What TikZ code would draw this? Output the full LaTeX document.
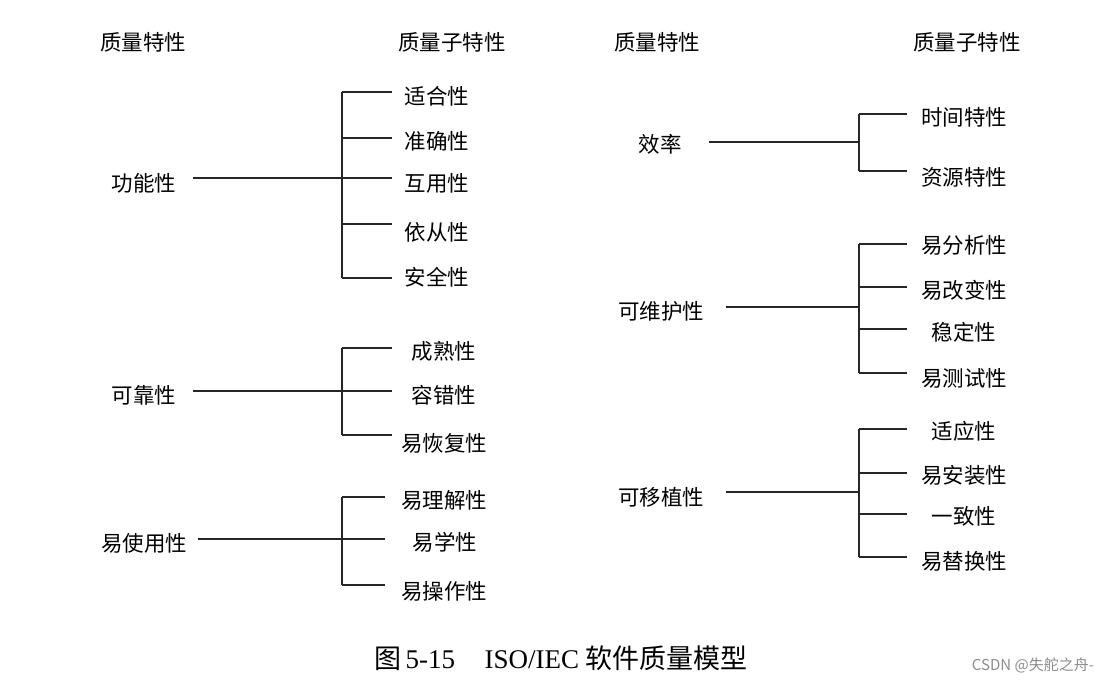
\documentclass[tikz,border=0pt]{standalone}
\usepackage{fontspec}
\setmainfont{Liberation Serif}
\newfontfamily\cjk{Noto Sans CJK SC}
\begin{document}
\begin{tikzpicture}[y=-1pt,x=1pt]
        \tikzset{
            txt/.style={font=\cjk\fontsize{21.5}{24}\selectfont,inner sep=0pt},
            tree/.style={draw=black!85,line width=1.1pt}
        }
        \useasboundingbox (0,0) rectangle (1109,684);

        % headers
        \node[txt] (h1) at (143,42) {质量特性};
        \node[txt] (h2) at (452,42) {质量子特性};
        \node[txt] (h3) at (657,42) {质量特性};
        \node[txt] (h4) at (967,42) {质量子特性};

        % left column
        \node[txt] (gn) at (144,183) {功能性};
        \node[txt] (gnt1) at (437,96) {适合性};
        \node[txt] (gnt2) at (437,141) {准确性};
        \node[txt] (gnt3) at (437,183) {互用性};
        \node[txt] (gnt4) at (437,232) {依从性};
        \node[txt] (gnt5) at (437,277) {安全性};
        \coordinate (gn0) at (193,178);
        \coordinate (gnb) at (342,178);
        \foreach \n/\y in {1/92,2/138,3/178,4/224,5/278}
            \coordinate (gn\n) at (392,\y);

        \node[txt] (kk) at (144,395) {可靠性};
        \node[txt] (kkt1) at (444,351) {成熟性};
        \node[txt] (kkt2) at (444,395) {容错性};
        \node[txt] (kkt3) at (444,443) {易恢复性};
        \coordinate (kk0) at (193,391);
        \coordinate (kkb) at (342,391);
        \foreach \n/\y in {1/348,2/391,3/435}
            \coordinate (kk\n) at (392,\y);

        \node[txt] (sy) at (144,543) {易使用性};
        \node[txt] (syt1) at (444,500) {易理解性};
        \node[txt] (syt2) at (445,542) {易学性};
        \node[txt] (syt3) at (444,591) {易操作性};
        \coordinate (sy0) at (198,539);
        \coordinate (syb) at (342,539);
        \foreach \n/\y in {1/497,2/539,3/585}
            \coordinate (sy\n) at (385,\y);

        % right column
        \node[txt] (xl) at (660,144) {效率};
        \node[txt] (xlt1) at (964,117) {时间特性};
        \node[txt] (xlt2) at (964,177) {资源特性};
        \coordinate (xl0) at (709,142);
        \coordinate (xlb) at (859,142);
        \foreach \n/\y in {1/114,2/171}
            \coordinate (xl\n) at (907,\y);

        \node[txt] (wh) at (661,311) {可维护性};
        \node[txt] (wht1) at (964,245) {易分析性};
        \node[txt] (wht2) at (964,290) {易改变性};
        \node[txt] (wht3) at (964,332) {稳定性};
        \node[txt] (wht4) at (964,378) {易测试性};
        \coordinate (wh0) at (726,307);
        \coordinate (whb) at (859,307);
        \foreach \n/\y in {1/244,2/287,3/329,4/373}
            \coordinate (wh\n) at (907,\y);

        \node[txt] (yz) at (661,497) {可移植性};
        \node[txt] (yzt1) at (964,431) {适应性};
        \node[txt] (yzt2) at (964,475) {易安装性};
        \node[txt] (yzt3) at (964,516) {一致性};
        \node[txt] (yzt4) at (964,561) {易替换性};
        \coordinate (yz0) at (726,492);
        \coordinate (yzb) at (859,492);
        \foreach \n/\y in {1/429,2/473,3/514,4/557}
            \coordinate (yz\n) at (907,\y);

        % connectors
        \foreach \g/\k in {gn/5,kk/3,sy/3,xl/2,wh/4,yz/4} {
            \draw[tree] (\g0) -- (\g b);
            \draw[tree] (\g b |- \g1) -- (\g b |- \g\k);
            \foreach \n in {1,...,\k}
                \draw[tree] (\g b |- \g\n) -- (\g\n);
        }

        \node[inner sep=0pt,font=\fontsize{27}{30}\selectfont] (cap) at (561,658)
            {{\cjk 图}\,5-15\hspace{1.1em}ISO/IEC {\cjk 软件质量模型}};
        \node[inner sep=0pt,text=black!45,font=\cjk\fontsize{15}{18}\selectfont] (wm) at (1033,665) {CSDN @失舵之舟-};
    \end{tikzpicture}
\end{document}
